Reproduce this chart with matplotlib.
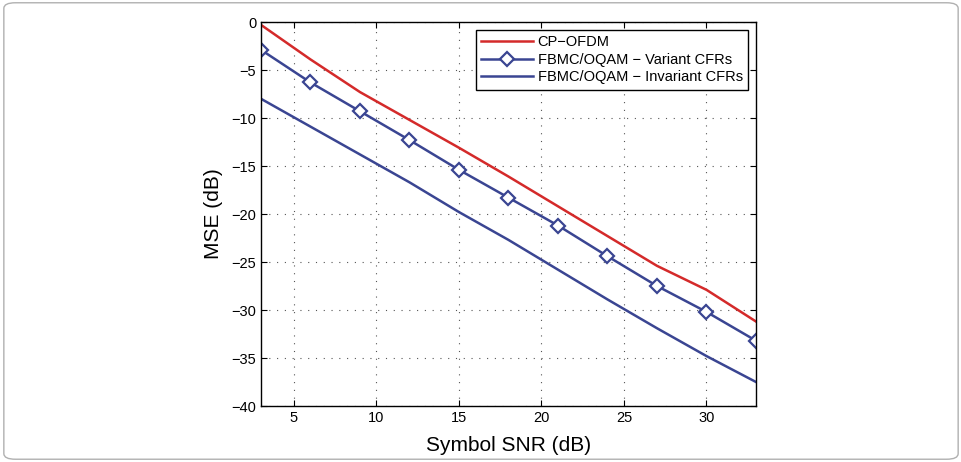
import matplotlib.pyplot as plt
from matplotlib.patches import FancyBboxPatch

plt.rcParams["font.family"] = ["Liberation Sans", "DejaVu Sans"]

snr = [3, 6, 9, 12, 15, 18, 21, 24, 27, 30, 33]
mse_cp_ofdm = [-0.3, -3.9, -7.3, -10.2, -13.1, -16.1, -19.2, -22.3, -25.4, -27.9, -31.2]
mse_variant = [-2.9, -6.3, -9.3, -12.3, -15.4, -18.3, -21.2, -24.4, -27.5, -30.2, -33.2]
mse_invariant = [-8.0, -10.9, -13.8, -16.7, -19.8, -22.7, -25.8, -28.9, -31.9, -34.8, -37.5]

RED = "#d42a2a"
BLUE = "#3a4592"

fig = plt.figure(figsize=(9.62, 4.62), dpi=100)
ax = fig.add_axes([261 / 962, 1 - 406 / 462, (756 - 261) / 962, (406 - 22) / 462])

ax.plot(snr, mse_cp_ofdm, color=RED, linewidth=1.8, label="CP\u2212OFDM")
ax.plot(snr, mse_variant, color=BLUE, linewidth=1.8, marker="D", markersize=7.5,
        markerfacecolor="white", markeredgecolor=BLUE, markeredgewidth=1.6,
        label="FBMC/OQAM \u2212 Variant CFRs")
ax.plot(snr, mse_invariant, color=BLUE, linewidth=1.8, label="FBMC/OQAM \u2212 Invariant CFRs")

ax.set_xlim(3, 33)
ax.set_ylim(-40, 0)
ax.set_xticks([5, 10, 15, 20, 25, 30])
ax.set_yticks(range(-40, 1, 5))
ax.set_yticklabels([str(v).replace("-", "\u2212") for v in range(-40, 1, 5)])
ax.tick_params(direction="in", labelsize=10.5, length=4, top=True, right=True)
ax.grid(True, linestyle=(0, (1, 6)), color="#555555", linewidth=0.8)
for spine in ax.spines.values():
    spine.set_linewidth(1.0)

ax.set_xlabel("Symbol SNR (dB)", fontsize=15, labelpad=8)
ax.set_ylabel("MSE (dB)", fontsize=15, labelpad=6)

leg = ax.legend(loc="upper right", fontsize=10.5, frameon=True, fancybox=False,
                edgecolor="black", handlelength=3.6, borderpad=0.35,
                labelspacing=0.25, borderaxespad=0.55, handletextpad=0.3,
                framealpha=1)
leg.get_frame().set_linewidth(1.0)

border = FancyBboxPatch((0.004, 0.006), 0.992, 0.988, boxstyle="round,pad=0,rounding_size=0.012",
                        transform=fig.transFigure, facecolor="none", edgecolor="#b0b0b0",
                        linewidth=1.0)
fig.patches.append(border)

fig.savefig("out.png", dpi=100)
